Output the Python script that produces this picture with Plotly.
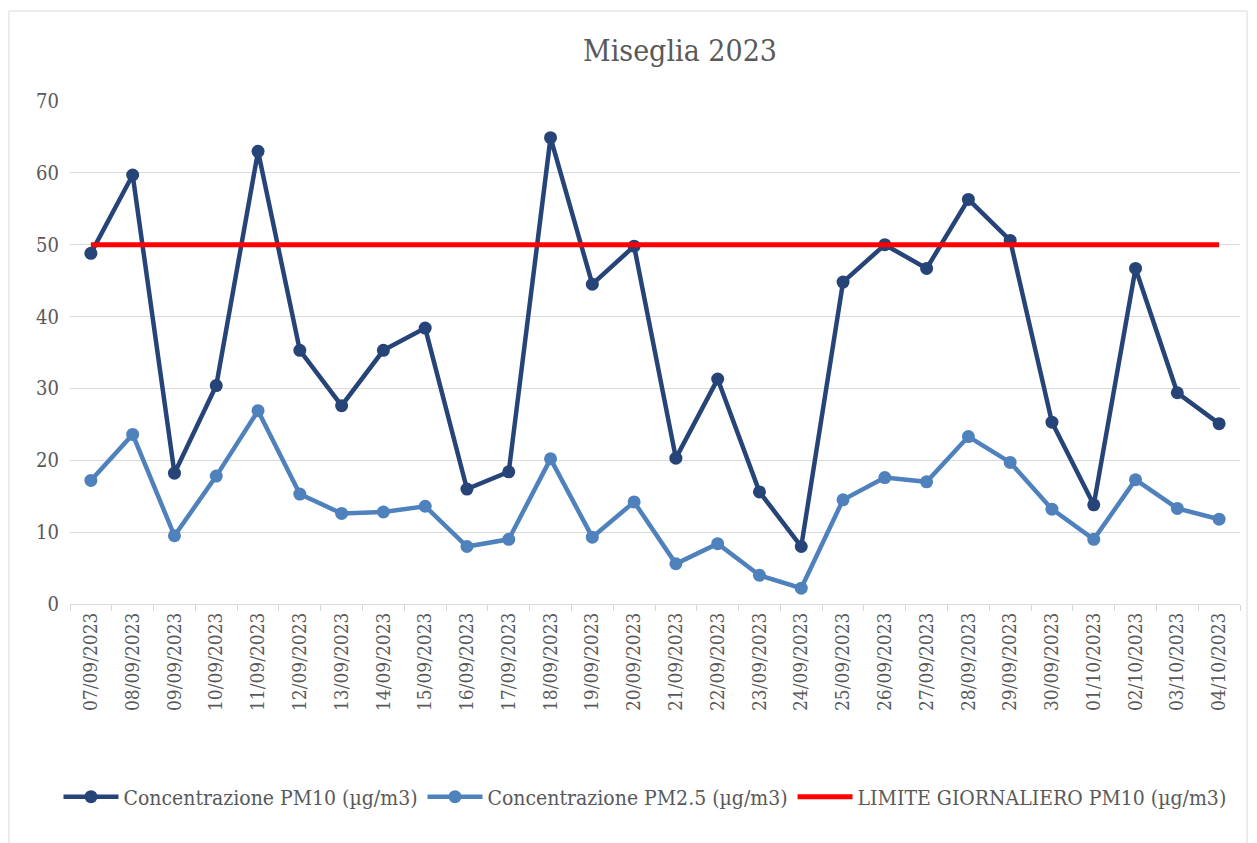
import plotly.graph_objects as go

dates = ["07/09/2023", "08/09/2023", "09/09/2023", "10/09/2023", "11/09/2023",
         "12/09/2023", "13/09/2023", "14/09/2023", "15/09/2023", "16/09/2023",
         "17/09/2023", "18/09/2023", "19/09/2023", "20/09/2023", "21/09/2023",
         "22/09/2023", "23/09/2023", "24/09/2023", "25/09/2023", "26/09/2023",
         "27/09/2023", "28/09/2023", "29/09/2023", "30/09/2023", "01/10/2023",
         "02/10/2023", "03/10/2023", "04/10/2023"]

pm10 = [48.8, 59.7, 18.2, 30.4, 63.0, 35.3, 27.6, 35.3, 38.4, 16.0,
        18.4, 64.9, 44.5, 49.8, 20.3, 31.3, 15.6, 8.0, 44.8, 50.0,
        46.7, 56.3, 50.6, 25.3, 13.8, 46.7, 29.4, 25.1]

pm25 = [17.2, 23.6, 9.5, 17.8, 26.9, 15.3, 12.6, 12.8, 13.6, 8.0,
        9.0, 20.2, 9.3, 14.2, 5.6, 8.4, 4.0, 2.2, 14.5, 17.6,
        17.0, 23.3, 19.7, 13.2, 9.0, 17.3, 13.3, 11.8]

limit = [50] * len(dates)

names = ["Concentrazione PM10 (µg/m3)", "Concentrazione PM2.5 (µg/m3)",
         "LIMITE GIORNALIERO PM10 (µg/m3)"]

FONT = "'DejaVu Serif Condensed', 'DejaVu Serif', serif"
TXT = "#595959"

# page body has an 8px margin; figure is sized/positioned to compensate
W, H = 1249, 835
L, R, T, B = 62, 17, 93, 239
PW, PH = W - L - R, H - T - B

fig = go.Figure()
fig.add_trace(go.Scatter(x=dates, y=pm10, name=names[0], mode="lines+markers",
                         line=dict(color="#264478", width=4.5),
                         marker=dict(color="#264478", size=13)))
fig.add_trace(go.Scatter(x=dates, y=pm25, name=names[1], mode="lines+markers",
                         line=dict(color="#4F81BD", width=4.5),
                         marker=dict(color="#4F81BD", size=13)))
fig.add_trace(go.Scatter(x=dates, y=limit, name=names[2], mode="lines",
                         line=dict(color="#FF0000", width=5)))

fig.update_layout(
    width=W, height=H,
    paper_bgcolor="white", plot_bgcolor="white",
    margin=dict(l=L, r=R, t=T, b=B, autoexpand=False),
    title=dict(text="Miseglia 2023", x=(680 - 8) / W, xanchor="center",
               y=1 - (50 - 8) / H, yanchor="middle",
               font=dict(family=FONT, size=30, color=TXT)),
    font=dict(family=FONT, color=TXT, size=16),
    showlegend=True,
    legend=dict(orientation="h", x=(645 - 8 - L) / PW, xanchor="center",
                y=(T + PH - (797 - 8)) / PH, yanchor="middle",
                font=dict(family=FONT, size=21, color=TXT), itemwidth=55,
                tracegroupgap=0, bgcolor="rgba(0,0,0,0)"),
    xaxis=dict(type="category", range=[-0.5, len(dates) - 0.5], tickangle=-90,
               showgrid=False, showline=True, linecolor="#D9D9D9", linewidth=1,
               ticks="outside", tickson="boundaries", ticklen=6, tickcolor="#D9D9D9",
               tickfont=dict(family=FONT, size=19, color=TXT)),
    yaxis=dict(range=[0, 70], dtick=10, showgrid=True, gridcolor="#D9D9D9", gridwidth=1,
               zeroline=False, showline=False, ticks="", ticklabelstandoff=10,
               tickfont=dict(family=FONT, size=20, color=TXT)),
    shapes=[dict(type="rect", xref="paper", yref="paper",
                 x0=(1 - L) / PW, x1=(1247 - 8 - L) / PW,
                 y0=-0.6, y1=(T + PH - 3) / PH,
                 line=dict(color="#D9D9D9", width=1), fillcolor="rgba(0,0,0,0)",
                 layer="below")],
)

fig.write_html("out.html")
